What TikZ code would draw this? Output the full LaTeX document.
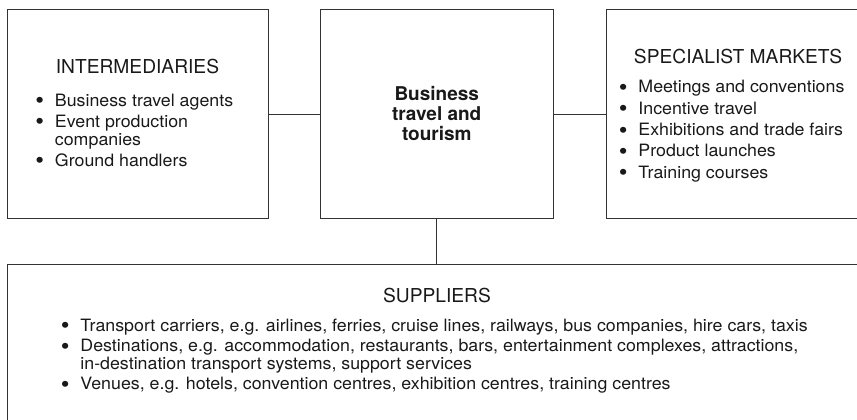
\documentclass[tikz,border=0pt]{standalone}
\usepackage{fontspec}
\setmainfont{TeX Gyre Heros}
\newfontfamily\listfam[FakeStretch=1.047]{TeX Gyre Heros}
\usetikzlibrary{positioning}
\usetikzlibrary{calc}
\newcommand{\bul}{\smash{\raisebox{-0.16em}{\scalebox{1.4}{\textbullet}}}}
\newcommand{\headfont}{\fontsize{19.2}{22}\selectfont}
\newcommand{\listfont}{\listfam\fontsize{17}{18}\selectfont}
\newcommand{\supfont}{\listfam\fontsize{17}{17}\selectfont}
\begin{document}
\begin{tikzpicture}[x=1pt,y=-1pt,
	box/.style={draw=black!80, line width=1pt, inner sep=0pt},
	head/.style={font=\headfont, text=black!90, inner sep=0pt},
	items/.style={font=\listfont, text=black!90, inner sep=0pt, anchor=north west, align=left},
	link/.style={draw=black!80, line width=1pt}]
				% frame of the picture
				\clip (0,0) rectangle (857,420);
				% draw boxes
				\node[box, minimum width=261, minimum height=208] (inter) at (137.5,114) {};
				\node[box, minimum width=232.5, minimum height=208] (core) at (436.75,114) {};
				\node[box, minimum width=280, minimum height=208] (spec) at (746,114) {};
				\node[box, minimum width=880, minimum height=200] (supp) at (447,364) {};
				% centre text
				\node[font=\fontsize{19}{20}\selectfont\bfseries, text=black!90, align=center] (coretext) at (core.center) {Business\\travel and\\tourism};
				% intermediaries
				\node[head] (intertitle) at (137.5,67) {INTERMEDIARIES};
				\node[items] (interlist) at (35.2,93.3) {\begin{tabular}{@{}l@{\hspace{10.8pt}}l@{}}
					\bul & Business travel agents\\[3pt]
					\bul & Event production\\
					     & companies\\[3pt]
					\bul & Ground handlers
				\end{tabular}};
				% specialist markets
				\node[head] (spectitle) at (738,57) {SPECIALIST MARKETS};
				\node[items] (speclist) at (618.7,79.8) {\begin{tabular}{@{}l@{\hspace{10.8pt}}l@{}}
					\bul & Meetings and conventions\\[3.4pt]
					\bul & Incentive travel\\[3.4pt]
					\bul & Exhibitions and trade fairs\\[3.4pt]
					\bul & Product launches\\[3.4pt]
					\bul & Training courses
				\end{tabular}};
				% suppliers
				\node[head] (supptitle) at (437,295) {SUPPLIERS};
				\node[items, font=\supfont] (supplist) at (60.7,318.5) {\begin{tabular}{@{}l@{\hspace{10.8pt}}l@{}}
					\bul & Transport carriers, e.g. airlines, ferries, cruise lines, railways, bus companies, hire cars, taxis\\[3pt]
					\bul & Destinations, e.g. accommodation, restaurants, bars, entertainment complexes, attractions,\\
					     & in-destination transport systems, support services\\[3pt]
					\bul & Venues, e.g. hotels, convention centres, exhibition centres, training centres
				\end{tabular}};
				% connectors
				\draw[link] (inter.east) -- (core.west);
				\draw[link] (core.east) -- (spec.west);
				\draw[link] (core.south) -- (core.south |- supp.north);
			\end{tikzpicture}
\end{document}
